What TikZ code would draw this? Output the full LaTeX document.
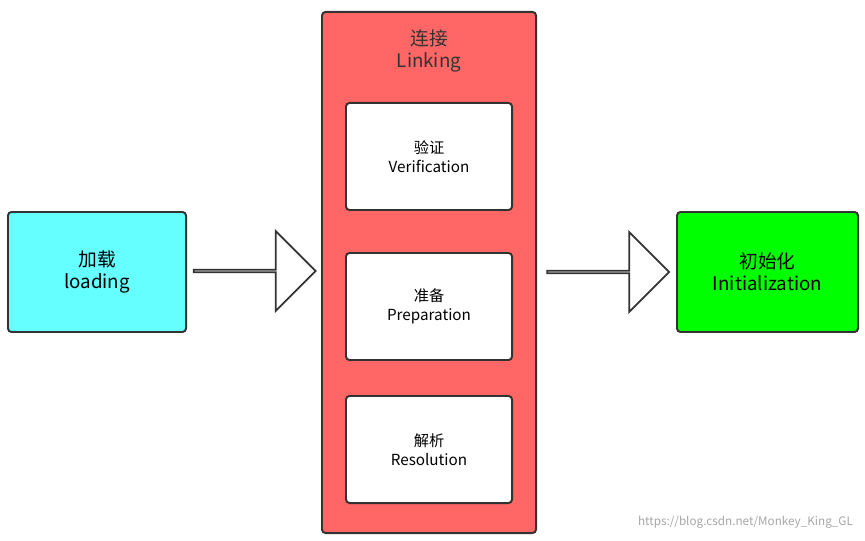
\documentclass[tikz,border=0pt]{standalone}
\usepackage{fontspec}
\setmainfont{Noto Sans CJK SC}
\usetikzlibrary{shapes.arrows,positioning}

\tikzset{
  box/.style={draw=black!80, line width=1.7pt, rounded corners=3pt, align=center, font=\fontsize{16}{19}\selectfont},
  stage/.style={box, minimum width=4.98cm, minimum height=3.21cm, fill=white, font=\fontsize{13}{16}\selectfont},
  bigarrow/.style={draw=black!80, line width=1.5pt, fill=white, single arrow, single arrow tip angle=90,
    minimum height=3.66cm, minimum width=2.4cm, single arrow head extend=0.795cm, inner sep=0pt}
}

\begin{document}
\begin{tikzpicture}[x=0.03cm, y=-0.03cm]
    \useasboundingbox (0,0) rectangle (865,541);
    % Linking block
    \node (Linking) [box, fill={rgb,255:red,255;green,102;blue,102}, minimum width=6.42cm, minimum height=15.63cm] at (429,272.5) {};
    \node (LinkingTitle) [align=center, font=\fontsize{16}{19}\selectfont, text=black!80] at (429,51) {连接\\Linking};
    \node (Verification) [stage] at (429,156.5) {验证\\Verification};
    \node (Preparation) [stage] at (429,306.5) {准备\\Preparation};
    \node (Resolution) [stage] at (429,449.5) {解析\\Resolution};

    % Outer stages
    \node (Loading) [box, fill={rgb,255:red,102;green,255;blue,255}, minimum width=5.34cm, minimum height=3.6cm] at (97,272) {加载\\loading};
    \node (Init) [box, fill={rgb,255:red,0;green,255;blue,0}, minimum width=5.43cm, minimum height=3.6cm] at (767.5,272) {初始化\\Initialization};

    % Arrows
    \node (ArrowLoad) [bigarrow] at (254,271) {};
    \node (ArrowInit) [bigarrow] at (607.5,272) {};

    % Watermark
    \node (Mark) [anchor=east, text=black!35, font=\fontsize{10}{12}\selectfont] at (857,522) {https://blog.csdn.net/Monkey\_King\_GL};
\end{tikzpicture}
\end{document}
